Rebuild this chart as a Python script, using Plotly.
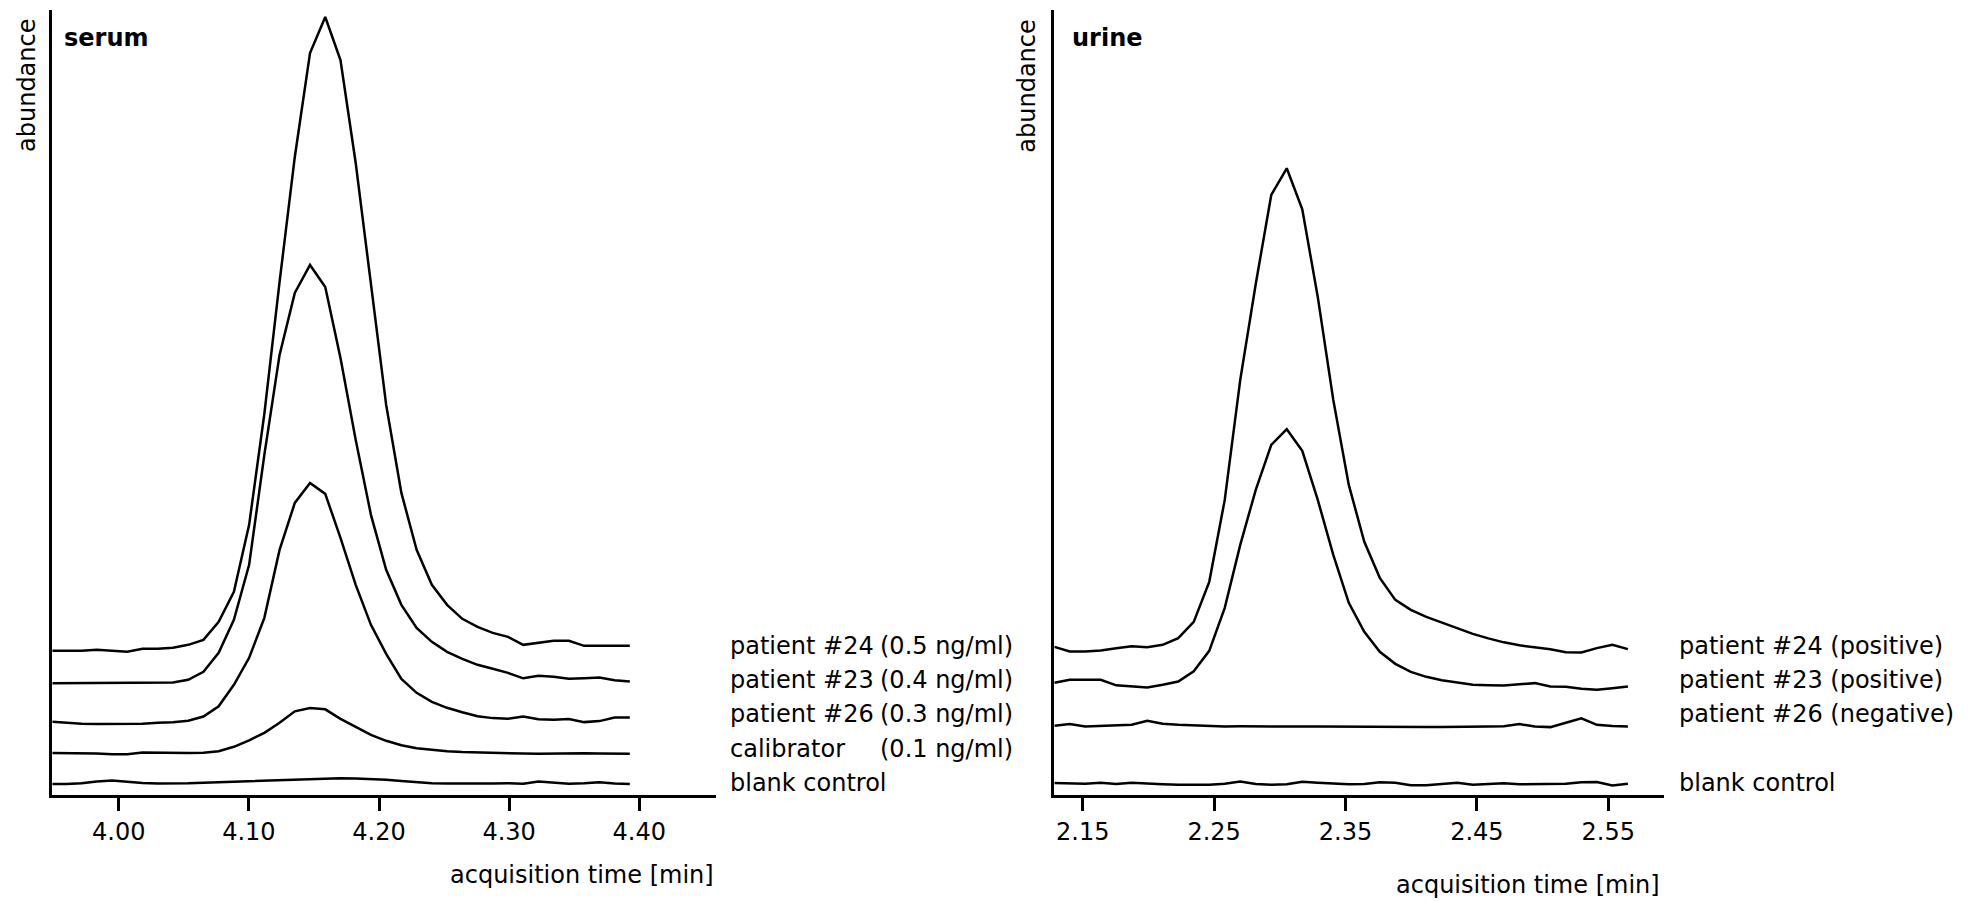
import plotly.graph_objects as go

# ---------------- data (abundance in arbitrary units) ----------------
serum_time = [3.9490, 3.9598, 3.9715, 3.9832, 3.9949, 4.0066, 4.0183, 4.0300, 4.0417, 4.0534,
              4.0651, 4.0768, 4.0885, 4.1002, 4.1119, 4.1236, 4.1353, 4.1470, 4.1587, 4.1704,
              4.1821, 4.1938, 4.2055, 4.2172, 4.2289, 4.2406, 4.2523, 4.2640, 4.2757, 4.2874,
              4.2991, 4.3108, 4.3225, 4.3342, 4.3459, 4.3576, 4.3693, 4.3810, 4.3927]
serum_p24 = [146, 146, 146, 147, 146, 145, 148, 148, 149, 152,
             157, 175, 205, 272, 383, 515, 640, 744, 780, 737,
             634, 514, 392, 304, 247, 212, 192, 178, 170, 164,
             160, 152, 154, 156, 156, 151, 151, 151, 151]
serum_p23 = [113.7, 113.7, 113.7, 113.7, 113.7, 113.7, 113.7, 114, 114.3, 117,
             125, 144, 177, 232, 342, 442, 504, 532, 510, 439,
             357, 282, 227, 192, 169, 155, 145, 138, 132, 128,
             124, 118.5, 121, 120, 118, 118.5, 119.3, 116.5, 115.3]
serum_p26 = [75, 74, 73, 72.7, 72.7, 72.7, 73, 74, 74.5, 76,
             80.3, 90.5, 112, 139, 179, 247, 294, 314, 303, 259,
             212, 172, 143, 118, 104, 95, 89, 84.5, 80.5, 78.7,
             78, 80.3, 77.5, 77, 77.7, 74.7, 75.7, 79.3, 79.3]
serum_cal = [43.7, 43.7, 43.7, 43.3, 42.5, 42.5, 44.3, 44, 43.7, 43.7,
             44, 45.5, 50, 56.5, 64, 74, 85.5, 88.7, 87.5, 78,
             70, 62, 56, 51.5, 48.5, 46.7, 45.5, 44.7, 44.2, 43.8,
             43.5, 43.2, 43, 43.3, 43.5, 43.5, 43.3, 43, 43]
serum_blank = [12.7, 12.7, 13.5, 15.3, 16.3, 14.7, 13.7, 13.2, 13, 13.5,
               14, 14.5, 15, 15.5, 16, 16.7, 17.4, 18.2, 18.5, 18.6,
               18.4, 17.8, 17, 15.7, 14.5, 13.6, 13.2, 13, 13, 13.3,
               13.6, 13, 15.2, 14.2, 13, 13.5, 14.5, 13.2, 12.7]

urine_time = [2.1285, 2.1401, 2.1519, 2.1637, 2.1755, 2.1873, 2.1991, 2.2109, 2.2227, 2.2345,
              2.2463, 2.2581, 2.2699, 2.2817, 2.2935, 2.3053, 2.3171, 2.3289, 2.3407, 2.3525,
              2.3643, 2.3761, 2.3879, 2.3997, 2.4115, 2.4233, 2.4351, 2.4469, 2.4587, 2.4705,
              2.4823, 2.4941, 2.5059, 2.5177, 2.5295, 2.5413, 2.5531, 2.5649]
urine_p24 = [150, 145.3, 145.3, 146.3, 148.7, 150.5, 149.7, 152, 158.7, 175,
             215, 297, 417, 513, 602, 628.7, 587.7, 500, 397, 312,
             255, 219, 197, 187, 180, 174.5, 168.5, 163, 158.5, 154.5,
             151.5, 149.5, 147.5, 144.7, 144.3, 148.7, 152, 147.7]
urine_p23 = [114, 117, 117, 117, 111.5, 110.5, 109.3, 112, 115.3, 125.5,
             146, 189, 252, 307, 352, 367.7, 346, 297, 242, 194,
             165, 145, 133, 125, 120, 116.5, 114, 112, 111.5, 111.3,
             112.5, 113.7, 110.3, 110, 108, 107, 108.5, 110.3]
urine_p26 = [71, 72.7, 70.3, 70.7, 71, 72, 76, 73, 72, 71.2,
             70.7, 70.3, 70.5, 70.3, 70.3, 70.3, 70.3, 70.3, 70.3, 70.5,
             70.5, 70.3, 70.0, 69.8, 69.8, 69.7, 69.7, 69.8, 70.2, 70.5,
             72.7, 70.3, 69.7, 74, 78.5, 72, 70.7, 70.3]
urine_blank = [13.7, 13, 13, 14, 12.7, 14, 13, 12.5, 12, 12,
               12, 13, 15.3, 12.7, 12, 12.5, 15, 14, 13, 12.5,
               12.7, 14.5, 14, 11.5, 11.5, 13, 14, 12, 12.5, 13.5,
               12.5, 12.5, 12.7, 13, 14.5, 14.7, 11.3, 13]

serum_tickvals = [4.00, 4.10, 4.20, 4.30, 4.40]
serum_ticktext = ["4.00", "4.10", "4.20", "4.30", "4.40"]
urine_tickvals = [2.15, 2.25, 2.35, 2.45, 2.55]
urine_ticktext = ["2.15", "2.25", "2.35", "2.45", "2.55"]

serum_names = ["patient #24", "patient #23", "patient #26", "calibrator", "blank control"]
serum_conc = ["(0.5 ng/ml)", "(0.4 ng/ml)", "(0.3 ng/ml)", "(0.1 ng/ml)", ""]
urine_names = ["patient #24 (positive)", "patient #23 (positive)", "patient #26 (negative)", "blank control"]

# ---------------- layout geometry ----------------
W, H = 1968, 901
TOP, BOTTOM = 10, 795.2
FONT = "DejaVu Sans"
LINE_W = 2.5


def px(x):
    return x / W


def py(y):
    return (BOTTOM - y) / (BOTTOM - TOP)


fig = go.Figure()

for ys in [serum_p24, serum_p23, serum_p26, serum_cal, serum_blank]:
    fig.add_trace(go.Scatter(x=serum_time, y=ys, mode="lines", xaxis="x", yaxis="y",
                             line=dict(color="black", width=LINE_W), showlegend=False,
                             hoverinfo="skip"))
for ys in [urine_p24, urine_p23, urine_p26, urine_blank]:
    fig.add_trace(go.Scatter(x=urine_time, y=ys, mode="lines", xaxis="x2", yaxis="y2",
                             line=dict(color="black", width=LINE_W), showlegend=False,
                             hoverinfo="skip"))

axis_common = dict(showline=True, linecolor="black", linewidth=3, showgrid=False, zeroline=False,
                   ticks="outside", ticklen=13, tickwidth=3, tickcolor="black",
                   tickfont=dict(family=FONT, size=24, color="black"), fixedrange=True)
yaxis_common = dict(showline=True, linecolor="black", linewidth=3, showgrid=False, zeroline=False,
                    showticklabels=False, ticks="", range=[1.8, 787], domain=[0, 1], fixedrange=True)

fig.update_layout(
    width=W, height=H,
    margin=dict(l=0, r=0, t=TOP, b=H - BOTTOM, pad=0),
    paper_bgcolor="white", plot_bgcolor="white",
    font=dict(family=FONT, size=24, color="black"),
    xaxis=dict(domain=[px(52.2), px(716)], range=[3.94890, 4.45893], anchor="y",
               tickvals=serum_tickvals, ticktext=serum_ticktext, **axis_common),
    yaxis=dict(anchor="x", **yaxis_common),
    xaxis2=dict(domain=[px(1054.2), px(1664)], range=[2.12831, 2.59239], anchor="y2",
                tickvals=urine_tickvals, ticktext=urine_ticktext, **axis_common),
    yaxis2=dict(anchor="x2", **yaxis_common),
)

ann = []
txt = dict(family=FONT, size=24, color="black")
bold = dict(family=FONT, size=24, color="black", weight="bold")

# panel titles
ann.append(dict(text="<b>serum</b>", x=px(62), y=py(38), xanchor="left", yanchor="middle", font=bold))
ann.append(dict(text="<b>urine</b>", x=px(1070), y=py(38), xanchor="left", yanchor="middle", font=bold))
# y titles
for xc in (27, 1026.7):
    ann.append(dict(text="abundance", x=px(xc), y=py(86), textangle=-90,
                    xanchor="center", yanchor="middle", font=txt))
# x titles
ann.append(dict(text="acquisition time [min]", x=px(716), y=py(875), xanchor="right", yanchor="middle", font=txt))
ann.append(dict(text="acquisition time [min]", x=px(1662), y=py(885), xanchor="right", yanchor="middle", font=txt))

# series labels
serum_rows = [646.4, 680.4, 714.6, 749.0, 783.2]
for name, conc, yy in zip(serum_names, serum_conc, serum_rows):
    ann.append(dict(text=name, x=px(728), y=py(yy), xanchor="left", yanchor="middle", font=txt))
    if conc:
        ann.append(dict(text=conc, x=px(878), y=py(yy), xanchor="left", yanchor="middle", font=txt))
urine_rows = [646.4, 680.4, 714.6, 783.2]
for name, yy in zip(urine_names, urine_rows):
    ann.append(dict(text=name, x=px(1677), y=py(yy), xanchor="left", yanchor="middle", font=txt))

for a in ann:
    a.update(xref="paper", yref="paper", showarrow=False)
fig.update_layout(annotations=ann)

fig.write_html(
    "out.html",
    config={"displayModeBar": False},
    post_script="document.body.style.margin='0';document.body.style.overflow='hidden';",
)
